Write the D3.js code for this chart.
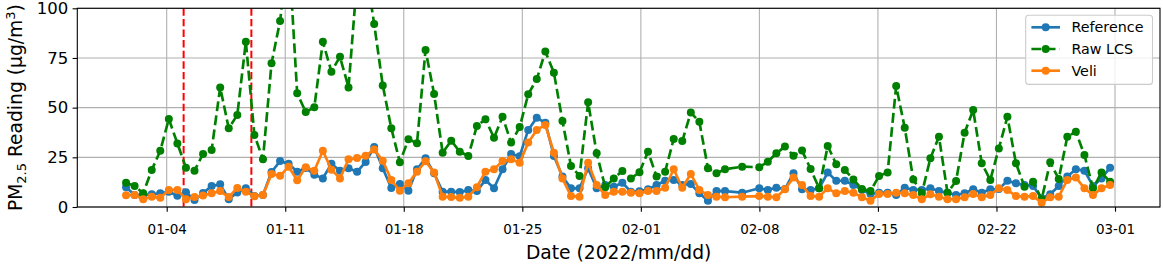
<!DOCTYPE html>
<meta charset="utf-8">
<style>
body {
  margin: 0;
  background: #fff;
}
svg {
  font-family: "DejaVu Sans";
}
.grid line {
  stroke: #b0b0b0;
  stroke-width: 1.1;
}
.axis path {
  display: none;
}
.axis line {
  stroke: #000;
  stroke-width: 1.1;
}
.axis text {
  fill: #000;
}
</style>
<body>
<script src="https://cdn.jsdelivr.net/npm/d3@7"></script>
<script>

var width = 1163,
    height = 266;

// readings come about every 12 h, two slots are absent around 02-06
var startDay = 0.6,
    stepDay = 0.5053;
var missingSlots = [71, 73];

var reference = [
  9.9, 6.0, 6.0, 6.4, 6.9, 7.7, 5.7, 7.4, 3.5, 7.0,
  10.6, 11.4, 3.9, 7.3, 9.4, 5.5, 6.0, 17.6, 23.1, 21.8,
  17.7, 19.6, 16.2, 14.4, 21.8, 18.2, 19.5, 17.7, 22.7, 30.2,
  19.5, 9.6, 11.6, 8.2, 19.0, 24.5, 17.0, 7.7, 7.7, 7.5,
  8.5, 8.0, 13.6, 9.4, 19.0, 26.7, 25.5, 38.8, 44.9, 42.4,
  25.7, 15.3, 9.4, 9.4, 19.5, 9.4, 11.1, 10.2, 12.2, 7.7,
  7.9, 8.9, 11.1, 13.2, 13.6, 11.1, 11.6, 6.9, 3.2, 8.1,
  8.0, 7.2, 9.4, 8.6, 9.7, 9.0, 17.0, 8.9,
  8.6, 9.4, 17.3, 13.2, 13.2, 11.1, 8.6, 6.5, 7.2, 7.2,
  6.0, 9.7, 8.6, 8.6, 9.4, 8.0, 7.2, 6.0, 6.9, 8.9,
  7.2, 8.9, 9.0, 13.2, 11.9, 11.1, 10.6, 4.4, 6.4, 10.6,
  15.3, 19.0, 18.3, 10.6, 14.4, 19.8
];

var rawLCS = [
  12.2, 10.6, 6.9, 18.6, 28.3, 44.3, 32.0, 19.8, 18.3, 26.7,
  28.7, 60.2, 39.6, 46.3, 83.2, 36.2, 24.0, 72.3, 93.6, 130,
  57.2, 47.8, 50.2, 83.2, 68.1, 75.6, 60.2, 115, 120, 92.1,
  61.2, 39.6, 22.5, 34.1, 32.1, 79.0, 56.9, 27.3, 33.4, 27.8,
  25.7, 40.8, 44.1, 34.9, 45.4, 32.4, 40.2, 56.7, 64.4, 78.2,
  67.6, 43.3, 20.6, 15.6, 52.7, 27.0, 10.0, 14.4, 18.1, 14.4,
  17.5, 27.8, 15.3, 17.8, 34.2, 33.2, 47.5, 42.9, 19.5, 17.0,
  19.0, 20.3, 20.0, 22.8, 27.0, 30.4, 25.8, 28.4,
  19.1, 9.4, 30.7, 21.5, 18.6, 13.9, 9.0, 8.0, 15.6, 17.3,
  60.9, 39.9, 13.9, 6.9, 24.5, 35.4, 7.2, 13.1, 37.4, 48.8,
  22.0, 13.6, 29.5, 45.4, 22.0, 10.2, 12.7, 3.9, 22.5, 14.1,
  35.4, 37.9, 26.2, 9.4, 17.3, 12.7
];

var veli = [
  5.9, 6.0, 3.9, 5.2, 4.6, 8.6, 8.6, 3.9, 5.0, 5.8,
  6.9, 8.0, 5.0, 9.6, 7.7, 5.4, 6.0, 16.6, 15.7, 20.3,
  13.5, 20.0, 18.2, 28.3, 18.8, 14.4, 24.0, 24.6, 25.8, 29.0,
  23.3, 13.6, 8.2, 11.9, 17.8, 23.0, 17.3, 5.2, 5.0, 4.6,
  5.2, 10.0, 17.8, 19.0, 23.1, 24.0, 22.3, 32.4, 38.8, 41.3,
  27.3, 14.4, 5.5, 5.2, 22.3, 11.1, 6.0, 7.7, 7.7, 7.2,
  6.9, 8.0, 8.0, 9.7, 19.0, 9.7, 16.6, 8.6, 6.0, 5.2,
  4.9, 5.2, 5.5, 5.2, 4.9, 8.9, 14.8, 11.1,
  5.5, 5.2, 9.4, 6.9, 8.0, 7.2, 4.9, 3.2, 6.5, 6.5,
  7.2, 6.9, 6.0, 3.9, 6.4, 5.2, 3.9, 3.9, 4.9, 6.5,
  4.9, 6.0, 9.4, 8.6, 5.5, 5.2, 5.5, 2.2, 4.9, 5.2,
  13.6, 14.9, 9.4, 6.0, 9.4, 11.1
];

var seriesNames = ["Reference", "Raw LCS", "Veli"];
var seriesColors = ["#1f77b4", "#008000", "#ff7f0e"];
var seriesDash = [null, "9.9,4.3", null];

var eventDates = ["2022-01-05", "2022-01-09"];
var xTickDates = ["2022-01-04", "2022-01-11", "2022-01-18", "2022-01-25",
  "2022-02-01", "2022-02-08", "2022-02-15", "2022-02-22", "2022-03-01"];
var yTicks = [0, 25, 50, 75, 100];

var x0 = 77.3, x1 = 1160, yTop = 8.3, yBottom = 207;

var dayMs = 864e5;
var jan1 = Date.UTC(2022, 0, 1);
function dayToDate(d) { return new Date(jan1 + d * dayMs); }

var times = [];
for (var s = 0; times.length < reference.length; s++) {
  if (missingSlots.indexOf(s) >= 0) continue;
  times.push(dayToDate(startDay + s * stepDay));
}

var x = d3.scaleUtc()
    .domain([dayToDate(-2.279), dayToDate(61.657)])
    .range([x0, x1]);

var y = d3.scaleLinear()
    .domain([0, 100])
    .range([yBottom, yTop]);

var parse = d3.utcParse("%Y-%m-%d");

var svg = d3.select("body").append("svg")
    .attr("width", width)
    .attr("height", height);

svg.append("defs").append("clipPath")
    .attr("id", "plot")
  .append("rect")
    .attr("x", x0)
    .attr("y", yTop)
    .attr("width", x1 - x0)
    .attr("height", yBottom - yTop);

// grid
var grid = svg.append("g").attr("class", "grid");
grid.selectAll(".gx")
    .data(xTickDates)
  .enter().append("line")
    .attr("x1", function(d) { return x(parse(d)); })
    .attr("x2", function(d) { return x(parse(d)); })
    .attr("y1", yTop)
    .attr("y2", yBottom);
grid.selectAll(".gy")
    .data(yTicks)
  .enter().append("line")
    .attr("x1", x0)
    .attr("x2", x1)
    .attr("y1", function(d) { return y(d); })
    .attr("y2", function(d) { return y(d); });

var plot = svg.append("g").attr("clip-path", "url(#plot)");

plot.selectAll(".event")
    .data(eventDates)
  .enter().append("line")
    .attr("x1", function(d) { return x(parse(d)); })
    .attr("x2", function(d) { return x(parse(d)); })
    .attr("y1", yTop)
    .attr("y2", yBottom)
    .style("stroke", "#ff0000")
    .style("stroke-width", 2)
    .style("stroke-dasharray", "7.4,3.2");

var allSeries = [reference, rawLCS, veli];

var line = d3.line()
    .x(function(d) { return x(d.t); })
    .y(function(d) { return y(d.v); });

allSeries.forEach(function(values, k) {
  var pts = values.map(function(v, i) { return {t: times[i], v: v}; });
  var g = plot.append("g");
  g.append("path")
      .datum(pts)
      .attr("d", line)
      .style("fill", "none")
      .style("stroke", seriesColors[k])
      .style("stroke-width", 2.67)
      .style("stroke-linejoin", "round")
      .style("stroke-dasharray", seriesDash[k]);
  g.selectAll("circle")
      .data(pts)
    .enter().append("circle")
      .attr("cx", function(d) { return x(d.t); })
      .attr("cy", function(d) { return y(d.v); })
      .attr("r", 4)
      .style("fill", seriesColors[k]);
});

// spines
svg.append("rect")
    .attr("x", x0)
    .attr("y", yTop)
    .attr("width", x1 - x0)
    .attr("height", yBottom - yTop)
    .style("fill", "none")
    .style("stroke", "#000")
    .style("stroke-width", 1.1);

var xAxis = svg.append("g")
    .attr("class", "axis")
    .attr("transform", "translate(0," + yBottom + ")")
    .call(d3.axisBottom(x)
      .tickValues(xTickDates.map(parse))
      .tickFormat(d3.utcFormat("%m-%d"))
      .tickSize(4.7)
      .tickPadding(12.5));
xAxis.selectAll("text").style("font-size", "13.5px");

var yAxis = svg.append("g")
    .attr("class", "axis")
    .attr("transform", "translate(" + x0 + ",0)")
    .call(d3.axisLeft(y)
      .tickValues(yTicks)
      .tickSize(4.7)
      .tickPadding(4.4));
yAxis.selectAll("text").style("font-size", "16.5px");
svg.selectAll(".axis").attr("font-family", null).attr("font-size", null);

svg.append("text")
    .attr("x", (x0 + x1) / 2)
    .attr("y", 259)
    .attr("text-anchor", "middle")
    .style("font-size", "18.7px")
    .text("Date (2022/mm/dd)");

var ylab = svg.append("text")
    .attr("transform", "translate(22," + (yTop + yBottom) / 2 + ") rotate(-90)")
    .attr("text-anchor", "middle")
    .style("font-size", "18.7px");
ylab.append("tspan").text("PM");
ylab.append("tspan").attr("dy", 4).style("font-size", "13px").text("2.5");
ylab.append("tspan").attr("dy", -4).text(" Reading (μg/m");
ylab.append("tspan").attr("dy", -7).style("font-size", "13px").text("3");
ylab.append("tspan").attr("dy", 7).text(")");

// legend
var fs = 14.3;
var legend = svg.append("g");
legend.append("rect")
    .attr("x", 1025.7)
    .attr("y", 15.2)
    .attr("width", 126.8)
    .attr("height", 69.2)
    .attr("rx", 3)
    .style("fill", "#fff")
    .style("fill-opacity", 0.8)
    .style("stroke", "#cccccc")
    .style("stroke-width", 1.1);

var rows = legend.selectAll(".row")
    .data(seriesNames)
  .enter().append("g")
    .attr("transform", function(d, i) { return "translate(1031.4," + (27.3 + i * 21.7) + ")"; });
rows.append("line")
    .attr("x1", 0)
    .attr("x2", 2 * fs)
    .style("stroke", function(d, i) { return seriesColors[i]; })
    .style("stroke-width", 2.67)
    .style("stroke-dasharray", function(d, i) { return seriesDash[i]; });
rows.append("circle")
    .attr("cx", fs)
    .attr("r", 4)
    .style("fill", function(d, i) { return seriesColors[i]; });
rows.append("text")
    .attr("x", 2.8 * fs)
    .attr("dy", "0.36em")
    .style("font-size", fs + "px")
    .text(function(d) { return d; });

</script>
